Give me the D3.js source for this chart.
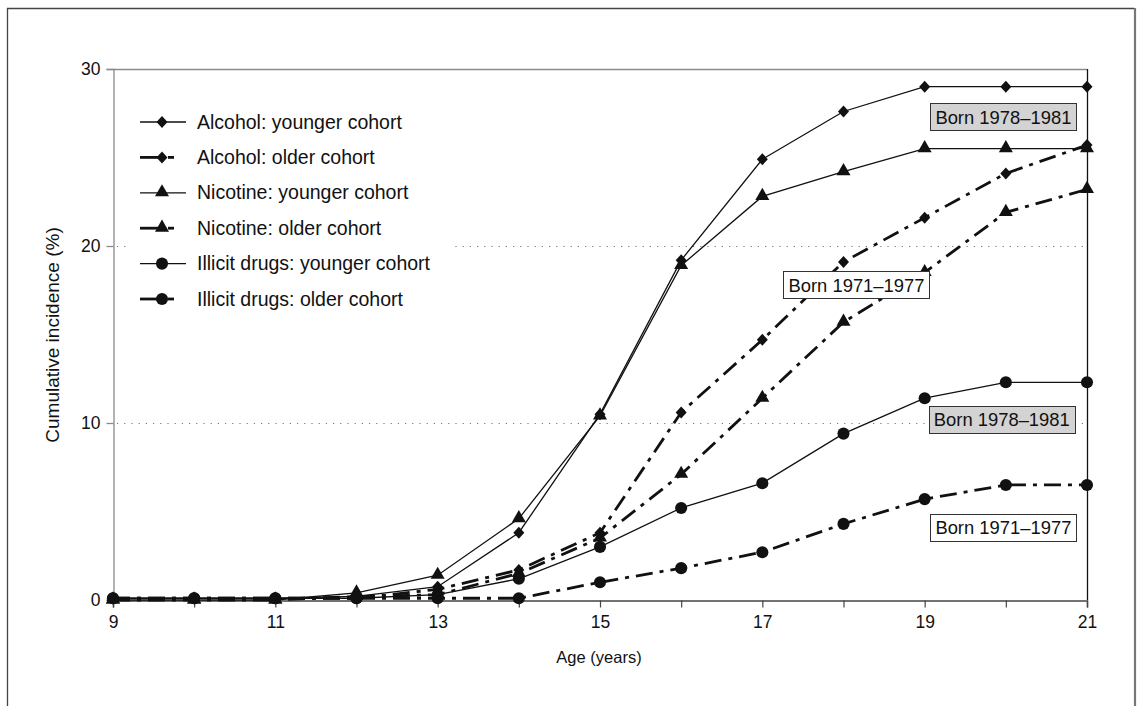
<!DOCTYPE html>
<html>
<head>
<meta charset="utf-8">
<script src="https://cdn.jsdelivr.net/npm/d3@7"></script>
<style>
  html, body { margin: 0; padding: 0; background: #fff; }
  svg { display: block; font-family: Arial, "Liberation Sans", Helvetica, sans-serif; }
</style>
</head>
<body>
<svg id="chart" width="1142" height="706"></svg>
<script>
const ages = [9, 10, 11, 12, 13, 14, 15, 16, 17, 18, 19, 20, 21];
const alcoholYounger = [0.1, 0.1, 0.1, 0.2, 0.75, 3.8, 10.5, 19.2, 24.9, 27.6, 29.0, 29.0, 29.0];
const alcoholOlder   = [0.1, 0.1, 0.1, 0.1, 0.6, 1.7, 3.8, 10.6, 14.7, 19.1, 21.6, 24.1, 25.7];
const nicotineYounger = [0, 0, 0, 0.4, 1.4, 4.6, 10.4, 18.9, 22.8, 24.2, 25.5, 25.5, 25.5];
const nicotineOlder   = [0, 0, 0, 0.2, 0.3, 1.5, 3.5, 7.1, 11.4, 15.7, 18.5, 21.9, 23.2];
const illicitYounger = [0.1, 0.1, 0.1, 0.1, 0.3, 1.2, 3.0, 5.2, 6.6, 9.4, 11.4, 12.3, 12.3];
const illicitOlder   = [0.1, 0.1, 0.1, 0.1, 0.1, 0.1, 1.0, 1.8, 2.7, 4.3, 5.7, 6.5, 6.5];
const seriesNames = ["Alcohol: younger cohort", "Alcohol: older cohort", "Nicotine: younger cohort",
                     "Nicotine: older cohort", "Illicit drugs: younger cohort", "Illicit drugs: older cohort"];
const yTicks = [0, 10, 20, 30];
const xLabelTicks = [9, 11, 13, 15, 17, 19, 21];
const gridValues = [10, 20];
const annotations = [
  {text: "Born 1978–1981", age: 19.97, value: 27.3, fill: "#d3d3d3"},
  {text: "Born 1971–1977", age: 18.16, value: 17.8, fill: "#ffffff"},
  {text: "Born 1978–1981", age: 19.95, value: 10.2, fill: "#d3d3d3"},
  {text: "Born 1971–1977", age: 19.97, value: 4.1, fill: "#ffffff"}
];

const series = [
  {name: seriesNames[0], values: alcoholYounger, marker: "diamond", older: false},
  {name: seriesNames[1], values: alcoholOlder, marker: "diamond", older: true},
  {name: seriesNames[2], values: nicotineYounger, marker: "triangle", older: false},
  {name: seriesNames[3], values: nicotineOlder, marker: "triangle", older: true},
  {name: seriesNames[4], values: illicitYounger, marker: "circle", older: false},
  {name: seriesNames[5], values: illicitOlder, marker: "circle", older: true}
];

const svg = d3.select("#chart");
const W = 1142, H = 706;
const m = {left: 113, right: 1087, top: 69, bottom: 600};

const x = d3.scaleLinear().domain([9, 21]).range([m.left, m.right]);
const y = d3.scaleLinear().domain([0, 30]).range([m.bottom, m.top]);

// outer frame (open at bottom)
svg.append("path").attr("d", `M7.5,${H+5} V8.5 H1134.5`)
  .attr("fill", "none").attr("stroke", "#444").attr("stroke-width", 1.3);
svg.append("line").attr("x1", 1135).attr("x2", 1135).attr("y1", 8).attr("y2", H+5)
  .attr("stroke", "#777").attr("stroke-width", 2.2);

// gridlines
svg.append("g").selectAll("line").data(gridValues).join("line")
  .attr("x1", m.left + 4).attr("x2", m.right)
  .attr("y1", d => Math.round(y(d)) + 0.5).attr("y2", d => Math.round(y(d)) + 0.5)
  .attr("stroke", "#777").attr("stroke-width", 1.2).attr("stroke-dasharray", "1.2,6");

// legend background (covers gridline)
svg.append("rect").attr("x", 130).attr("y", 104).attr("width", 324).attr("height", 212).attr("fill", "#fff");

// top border of plot & right border
svg.append("line").attr("x1", m.left).attr("x2", m.right).attr("y1", m.top + 0.5).attr("y2", m.top + 0.5)
  .attr("stroke", "#8a8a8a").attr("stroke-width", 1.3);
svg.append("line").attr("x1", m.right + 0.5).attr("x2", m.right + 0.5).attr("y1", m.top).attr("y2", m.bottom)
  .attr("stroke", "#111").attr("stroke-width", 1.3);

const tickFont = 17.5;
// y axis
const yAxis = svg.append("g").attr("transform", `translate(${m.left + 0.5},0)`)
  .call(d3.axisLeft(y).tickValues(yTicks).tickSize(7).tickPadding(6));
yAxis.select(".domain").attr("stroke", "#8a8a8a").attr("stroke-width", 1.3);
yAxis.selectAll(".tick line").attr("stroke", "#8a8a8a").attr("stroke-width", 1.3);
yAxis.selectAll(".tick text").attr("font-size", tickFont).attr("fill", "#111")
  .attr("font-family", "Arial, 'Liberation Sans', sans-serif");

// x axis
const xAxis = svg.append("g").attr("transform", `translate(0,${m.bottom + 0.5})`)
  .call(d3.axisBottom(x).tickValues(ages).tickSize(7).tickPadding(8)
    .tickFormat(d => xLabelTicks.includes(d) ? d : ""));
xAxis.select(".domain").attr("stroke", "#444").attr("stroke-width", 1.5);
xAxis.selectAll(".tick line").attr("stroke", "#444").attr("stroke-width", 1.2);
xAxis.selectAll(".tick text").attr("font-size", tickFont).attr("fill", "#111")
  .attr("font-family", "Arial, 'Liberation Sans', sans-serif");

// axis titles
svg.append("text").attr("x", 599).attr("y", 663).attr("text-anchor", "middle")
  .attr("font-size", 16.5).attr("fill", "#111").text("Age (years)");
svg.append("text").attr("transform", "translate(59,335) rotate(-90)").attr("text-anchor", "middle")
  .attr("font-size", 19).attr("fill", "#111").text("Cumulative incidence (%)");

const olderDash = "17,7,4,7";
function markerPath(type) {
  if (type === "diamond") return "M0,-6L5.5,0L0,6L-5.5,0Z";
  if (type === "triangle") return d3.symbol().type(d3.symbolTriangle).size(85)();
  return d3.symbol().type(d3.symbolCircle).size(115)();
}
function drawMarker(g, type, cx, cy) {
  const p = g.append("path").attr("d", markerPath(type)).attr("fill", "#111");
  if (type === "triangle") p.attr("transform", `translate(${cx},${cy - 0.5})`);
  else p.attr("transform", `translate(${cx},${cy})`);
}

const line = d3.line().x((d, i) => x(ages[i])).y(d => y(d));
const plot = svg.append("g");
series.forEach(s => {
  plot.append("path").datum(s.values).attr("d", line)
    .attr("fill", "none").attr("stroke", "#111")
    .attr("stroke-width", s.older ? 2.8 : 1.3)
    .attr("stroke-dasharray", s.older ? olderDash : null);
});
series.forEach(s => {
  const g = plot.append("g");
  s.values.forEach((v, i) => drawMarker(g, s.marker, x(ages[i]), y(v)));
});

// annotations
annotations.forEach(a => {
  const g = svg.append("g");
  const cx = x(a.age), cy = y(a.value);
  const t = g.append("text").attr("x", cx).attr("y", cy + 7).attr("text-anchor", "middle")
    .attr("font-size", 18.4).attr("fill", "#111").text(a.text);
  const bb = t.node().getBBox();
  g.insert("rect", "text").attr("x", Math.round(bb.x - 5) + 0.5).attr("y", Math.round(cy - 13.5) + 0.5)
    .attr("width", Math.round(bb.width + 10)).attr("height", 27)
    .attr("fill", a.fill).attr("stroke", "#333").attr("stroke-width", 1);
});

// legend
const leg = svg.append("g");
series.forEach((s, i) => {
  const ly = 122 + i * 35.4;
  if (s.older) {
    leg.append("line").attr("x1", 140).attr("x2", 161).attr("y1", ly).attr("y2", ly)
      .attr("stroke", "#111").attr("stroke-width", 2.8);
    leg.append("line").attr("x1", 168).attr("x2", 174).attr("y1", ly).attr("y2", ly)
      .attr("stroke", "#111").attr("stroke-width", 2.8);
  } else {
    leg.append("line").attr("x1", 140).attr("x2", 186).attr("y1", ly).attr("y2", ly)
      .attr("stroke", "#111").attr("stroke-width", 1.3);
  }
  drawMarker(leg, s.marker, 162, ly);
  leg.append("text").attr("x", 197).attr("y", ly + 6.5).attr("font-size", 19.5).attr("fill", "#111").text(s.name);
});
</script>
</body>
</html>
